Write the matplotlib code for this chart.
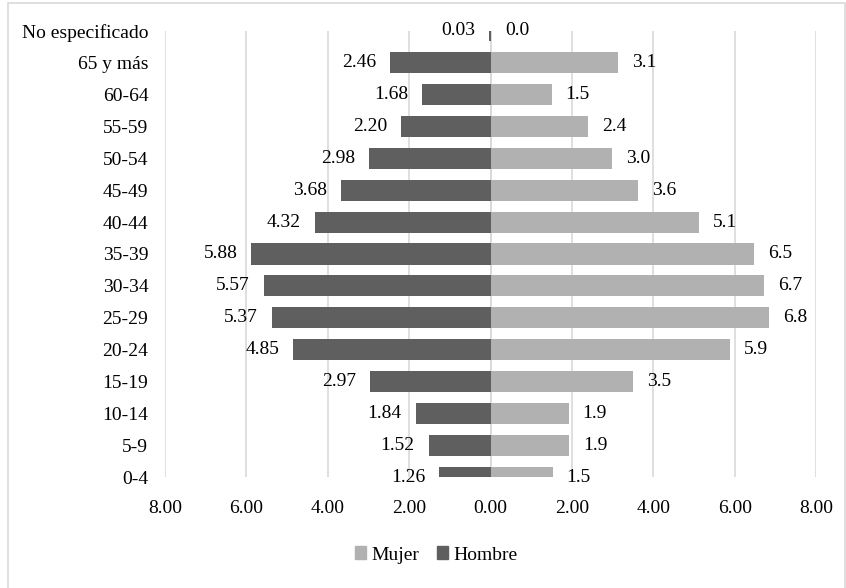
import matplotlib

matplotlib.use("Agg")
import matplotlib.pyplot as plt
from matplotlib.patches import Patch, Rectangle
import numpy as np

plt.rcParams["font.family"] = ["Liberation Serif", "DejaVu Serif"]

# top to bottom, as in the reference
groups = ["No especificado", "65 y más", "60-64", "55-59", "50-54", "45-49",
          "40-44", "35-39", "30-34", "25-29", "20-24", "15-19", "10-14", "5-9", "0-4"]
hombre = [0.03, 2.46, 1.68, 2.20, 2.98, 3.68, 4.32, 5.88, 5.57, 5.37, 4.85, 2.97, 1.84, 1.52, 1.26]
mujer = [0.01, 3.14, 1.50, 2.39, 2.98, 3.62, 5.12, 6.48, 6.72, 6.84, 5.88, 3.50, 1.92, 1.94, 1.53]
x_ticks = [-8, -6, -4, -2, 0, 2, 4, 6, 8]

dark = "#5f5f5f"
light = "#b1b1b1"
grid = "#d9d9d9"
fs = 14

fig = plt.figure(figsize=(8.46, 5.88), dpi=100)
W, H = 846, 588
ax = fig.add_axes([165 / W, 1 - 477.4 / H, (816 - 165) / W, (477.4 - 30.6) / H])

ypos = np.arange(len(groups))[::-1]
ax.barh(ypos, -np.array(hombre), height=0.66, color=dark, zorder=2)
ax.barh(ypos, mujer, height=0.66, color=light, zorder=2)

ax.set_xlim(-8, 8)
ax.set_ylim(0, len(groups) - 1)
ax.set_xticks(x_ticks)
ax.set_xticklabels([f"{abs(t):.2f}" for t in x_ticks], fontsize=fs)
ax.set_yticks(ypos)
ax.set_yticklabels(groups, fontsize=fs)
ax.tick_params(axis="both", length=0)
ax.tick_params(axis="x", pad=16)
ax.tick_params(axis="y", pad=12)
ax.xaxis.grid(True, color=grid, linewidth=1.2, zorder=0)
ax.axvline(0, color=grid, linewidth=1.2, zorder=1)
for side in ax.spines.values():
    side.set_visible(False)

for y, h, m in zip(ypos, hombre, mujer):
    ax.annotate(f"{h:.2f}", (-h, y), xytext=(-10, 0), textcoords="offset points",
                ha="right", va="center", fontsize=fs, annotation_clip=False)
    ax.annotate(f"{m:.1f}", (m, y), xytext=(10, 0), textcoords="offset points",
                ha="left", va="center", fontsize=fs, annotation_clip=False)

handles = [Patch(color=light, label="Mujer"), Patch(color=dark, label="Hombre")]
fig.legend(handles=handles, loc="center", bbox_to_anchor=(436 / W, 1 - 555 / H),
           ncol=2, frameon=False, fontsize=fs, handlelength=0.6, handleheight=0.6,
           handletextpad=0.25, columnspacing=0.9)

fig.patches.append(Rectangle((8 / W, -0.02), (845 - 8) / W, 1.02 - 3 / H,
                             transform=fig.transFigure, fill=False,
                             edgecolor=grid, linewidth=1.2))

fig.savefig("out.png", dpi=100)
